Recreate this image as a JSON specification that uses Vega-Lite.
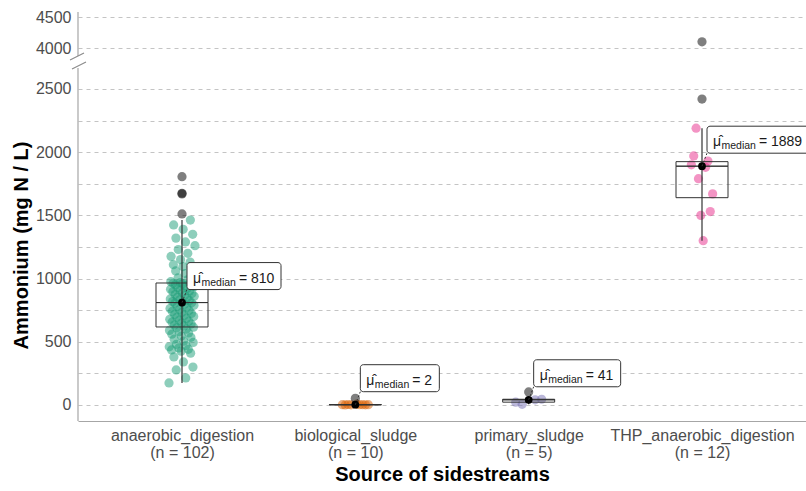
{
  "$schema": "https://vega.github.io/schema/vega-lite/v6.json",
  "width": 728,
  "height": 409,
  "padding": {"left": 11, "top": 9, "right": 0, "bottom": 6},
  "background": "white",
  "config": {"view": {"stroke": null}, "font": "Liberation Sans"},
  "datasets": {
    "points": [
      {"g": "anaerobic_digestion", "v": 174}, {"g": "anaerobic_digestion", "v": 460}, {"g": "anaerobic_digestion", "v": 590}, {"g": "anaerobic_digestion", "v": 678}, {"g": "anaerobic_digestion", "v": 764}, {"g": "anaerobic_digestion", "v": 839}, {"g": "anaerobic_digestion", "v": 916}, {"g": "anaerobic_digestion", "v": 975}, {"g": "anaerobic_digestion", "v": 1175}, {"g": "anaerobic_digestion", "v": 1670},
      {"g": "anaerobic_digestion", "v": 435}, {"g": "anaerobic_digestion", "v": 560}, {"g": "anaerobic_digestion", "v": 655}, {"g": "anaerobic_digestion", "v": 740}, {"g": "anaerobic_digestion", "v": 818}, {"g": "anaerobic_digestion", "v": 895}, {"g": "anaerobic_digestion", "v": 962}, {"g": "anaerobic_digestion", "v": 1110}, {"g": "anaerobic_digestion", "v": 1424},
      {"g": "anaerobic_digestion", "v": 380}, {"g": "anaerobic_digestion", "v": 520}, {"g": "anaerobic_digestion", "v": 632}, {"g": "anaerobic_digestion", "v": 716}, {"g": "anaerobic_digestion", "v": 804}, {"g": "anaerobic_digestion", "v": 874}, {"g": "anaerobic_digestion", "v": 950}, {"g": "anaerobic_digestion", "v": 1060}, {"g": "anaerobic_digestion", "v": 1320},
      {"g": "anaerobic_digestion", "v": 277}, {"g": "anaerobic_digestion", "v": 480}, {"g": "anaerobic_digestion", "v": 610}, {"g": "anaerobic_digestion", "v": 693}, {"g": "anaerobic_digestion", "v": 780}, {"g": "anaerobic_digestion", "v": 853}, {"g": "anaerobic_digestion", "v": 930}, {"g": "anaerobic_digestion", "v": 1005}, {"g": "anaerobic_digestion", "v": 1230}, {"g": "anaerobic_digestion", "v": 1806},
      {"g": "anaerobic_digestion", "v": 451}, {"g": "anaerobic_digestion", "v": 580}, {"g": "anaerobic_digestion", "v": 670}, {"g": "anaerobic_digestion", "v": 756}, {"g": "anaerobic_digestion", "v": 832}, {"g": "anaerobic_digestion", "v": 909}, {"g": "anaerobic_digestion", "v": 968}, {"g": "anaerobic_digestion", "v": 1150}, {"g": "anaerobic_digestion", "v": 1511},
      {"g": "anaerobic_digestion", "v": 425}, {"g": "anaerobic_digestion", "v": 545}, {"g": "anaerobic_digestion", "v": 648}, {"g": "anaerobic_digestion", "v": 732}, {"g": "anaerobic_digestion", "v": 812}, {"g": "anaerobic_digestion", "v": 888}, {"g": "anaerobic_digestion", "v": 959}, {"g": "anaerobic_digestion", "v": 1095}, {"g": "anaerobic_digestion", "v": 1390},
      {"g": "anaerobic_digestion", "v": 340}, {"g": "anaerobic_digestion", "v": 505}, {"g": "anaerobic_digestion", "v": 625}, {"g": "anaerobic_digestion", "v": 708}, {"g": "anaerobic_digestion", "v": 796}, {"g": "anaerobic_digestion", "v": 867}, {"g": "anaerobic_digestion", "v": 944}, {"g": "anaerobic_digestion", "v": 1040}, {"g": "anaerobic_digestion", "v": 1290},
      {"g": "anaerobic_digestion", "v": 214}, {"g": "anaerobic_digestion", "v": 470}, {"g": "anaerobic_digestion", "v": 600}, {"g": "anaerobic_digestion", "v": 685}, {"g": "anaerobic_digestion", "v": 772}, {"g": "anaerobic_digestion", "v": 846}, {"g": "anaerobic_digestion", "v": 923}, {"g": "anaerobic_digestion", "v": 990}, {"g": "anaerobic_digestion", "v": 1200}, {"g": "anaerobic_digestion", "v": 1675},
      {"g": "anaerobic_digestion", "v": 440}, {"g": "anaerobic_digestion", "v": 570}, {"g": "anaerobic_digestion", "v": 662}, {"g": "anaerobic_digestion", "v": 748}, {"g": "anaerobic_digestion", "v": 825}, {"g": "anaerobic_digestion", "v": 902}, {"g": "anaerobic_digestion", "v": 964}, {"g": "anaerobic_digestion", "v": 1130}, {"g": "anaerobic_digestion", "v": 1463},
      {"g": "anaerobic_digestion", "v": 410}, {"g": "anaerobic_digestion", "v": 535}, {"g": "anaerobic_digestion", "v": 640}, {"g": "anaerobic_digestion", "v": 724}, {"g": "anaerobic_digestion", "v": 808}, {"g": "anaerobic_digestion", "v": 881}, {"g": "anaerobic_digestion", "v": 955}, {"g": "anaerobic_digestion", "v": 1080}, {"g": "anaerobic_digestion", "v": 1350},
      {"g": "anaerobic_digestion", "v": 300}, {"g": "anaerobic_digestion", "v": 495}, {"g": "anaerobic_digestion", "v": 615}, {"g": "anaerobic_digestion", "v": 700}, {"g": "anaerobic_digestion", "v": 788}, {"g": "anaerobic_digestion", "v": 860}, {"g": "anaerobic_digestion", "v": 937}, {"g": "anaerobic_digestion", "v": 1020}, {"g": "anaerobic_digestion", "v": 1260},
      {"g": "biological_sludge", "v": 2}, {"g": "biological_sludge", "v": 0.3}, {"g": "biological_sludge", "v": 3.5}, {"g": "biological_sludge", "v": 1.2}, {"g": "biological_sludge", "v": 52}, {"g": "biological_sludge", "v": 6}, {"g": "biological_sludge", "v": 1.6}, {"g": "biological_sludge", "v": 2.6}, {"g": "biological_sludge", "v": 0.8}, {"g": "biological_sludge", "v": 2},
      {"g": "primary_sludge", "v": 22}, {"g": "primary_sludge", "v": 5}, {"g": "primary_sludge", "v": 103}, {"g": "primary_sludge", "v": 41}, {"g": "primary_sludge", "v": 45},
      {"g": "THP_anaerobic_digestion", "v": 4100}, {"g": "THP_anaerobic_digestion", "v": 1900}, {"g": "THP_anaerobic_digestion", "v": 1970}, {"g": "THP_anaerobic_digestion", "v": 2190}, {"g": "THP_anaerobic_digestion", "v": 1790}, {"g": "THP_anaerobic_digestion", "v": 1500}, {"g": "THP_anaerobic_digestion", "v": 1300}, {"g": "THP_anaerobic_digestion", "v": 1880}, {"g": "THP_anaerobic_digestion", "v": 1930}, {"g": "THP_anaerobic_digestion", "v": 1530}, {"g": "THP_anaerobic_digestion", "v": 1670}, {"g": "THP_anaerobic_digestion", "v": 2420}
    ],
    "stats": [
      {"g": "anaerobic_digestion", "lo": 174, "q1": 617, "med": 810, "q3": 965, "hi": 1463},
      {"g": "biological_sludge", "lo": 0.3, "q1": 1.3, "med": 2, "q3": 3.3, "hi": 6},
      {"g": "primary_sludge", "lo": 5, "q1": 22, "med": 41, "q3": 45, "hi": 45},
      {"g": "THP_anaerobic_digestion", "lo": 1300, "q1": 1640, "med": 1889, "q3": 1925, "hi": 2190}
    ],
    "axisseg": [{"y0": -127, "y1": 2666}, {"y0": 3871, "y1": 4581}],
    "brk": [{"y": 3268}]
  },
  "layer": [
    {
      "data": {"name": "points"},
      "transform": [
        {"lookup": "g", "from": {"data": {"name": "stats"}, "key": "g", "fields": ["lo", "hi"]}},
        {"window": [{"op": "percent_rank", "as": "jit"}], "groupby": ["g"]},
        {"filter": "datum.v >= datum.lo && datum.v <= datum.hi"}
      ],
      "mark": {"type": "circle", "size": 85, "opacity": 0.5},
      "encoding": {
        "x": {
          "field": "g", "type": "nominal",
          "scale": {"type": "point", "domain": ["anaerobic_digestion", "biological_sludge", "primary_sludge", "THP_anaerobic_digestion"], "padding": 0.6},
          "axis": {
            "title": "Source of sidestreams",
            "labelExpr": "[datum.label, datum.label == 'anaerobic_digestion' ? '(n = 102)' : datum.label == 'biological_sludge' ? '(n = 10)' : datum.label == 'primary_sludge' ? '(n = 5)' : '(n = 12)']",
            "labelAngle": 0, "labelFontSize": 16, "labelColor": "#4d4d4d", "labelLineHeight": 17, "labelPadding": 6, "labelLimit": 400, "labelOverlap": false,
            "ticks": false, "grid": false, "domainColor": "#a6a6a6", "domainWidth": 1.2,
            "titleFontSize": 20, "titleFontWeight": "bold", "titleColor": "black", "titlePadding": 4
          }
        },
        "xOffset": {"field": "jit", "type": "quantitative", "scale": {"domain": [0, 1], "range": [-13, 13]}},
        "y": {
          "field": "v", "type": "quantitative",
          "scale": {"domain": [-127, 2666, 3871, 4581], "range": [409, 56, 44, 0], "zero": false, "nice": false},
          "axis": {
            "title": "Ammonium (mg N / L)",
            "values": [0, 250, 500, 750, 1000, 1250, 1500, 1750, 2000, 2250, 2500, 4000, 4500],
            "tickCount": 50,
            "labelExpr": "datum.value % 500 == 0 ? datum.label : ''",
            "format": "d", "grid": true, "gridDash": [4, 4], "gridColor": "#c4c4c4", "gridWidth": 1,
            "ticks": false, "domain": false, "labelFontSize": 16, "labelColor": "#4d4d4d", "labelPadding": 7, "labelOverlap": false,
            "titleFontSize": 20, "titleFontWeight": "bold", "titleColor": "black", "titlePadding": 4, "titleY": 233
          }
        },
        "color": {"field": "g", "type": "nominal", "scale": {"domain": ["anaerobic_digestion", "biological_sludge", "primary_sludge", "THP_anaerobic_digestion"], "range": ["#1B9E77", "#D95F02", "#7570B3", "#E7298A"]}, "legend": null}
      }
    },
    {
      "data": {"name": "points"},
      "transform": [
        {"lookup": "g", "from": {"data": {"name": "stats"}, "key": "g", "fields": ["lo", "hi"]}},
        {"filter": "datum.v < datum.lo || datum.v > datum.hi"}
      ],
      "mark": {"type": "circle", "size": 85, "color": "black", "opacity": 0.5},
      "encoding": {
        "x": {"field": "g", "type": "nominal"},
        "y": {"field": "v", "type": "quantitative"}
      }
    },
    {
      "data": {"name": "stats"},
      "mark": {"type": "rule", "color": "#333333", "strokeWidth": 1.2},
      "encoding": {
        "x": {"field": "g", "type": "nominal"},
        "y": {"field": "lo", "type": "quantitative"},
        "y2": {"field": "hi"}
      }
    },
    {
      "data": {"name": "stats"},
      "mark": {"type": "bar", "width": 52, "fill": "white", "fillOpacity": 0, "stroke": "#333333", "strokeWidth": 1},
      "encoding": {
        "x": {"field": "g", "type": "nominal"},
        "y": {"field": "q1", "type": "quantitative"},
        "y2": {"field": "med"}
      }
    },
    {
      "data": {"name": "stats"},
      "mark": {"type": "bar", "width": 52, "fill": "white", "fillOpacity": 0, "stroke": "#333333", "strokeWidth": 1},
      "encoding": {
        "x": {"field": "g", "type": "nominal"},
        "y": {"field": "med", "type": "quantitative"},
        "y2": {"field": "q3"}
      }
    },
    {
      "data": {"name": "stats"},
      "mark": {"type": "circle", "size": 60, "color": "black", "opacity": 1},
      "encoding": {
        "x": {"field": "g", "type": "nominal"},
        "y": {"field": "med", "type": "quantitative"}
      }
    },
    {
      "data": {"name": "stats"},
      "mark": {"type": "point", "shape": "M0,0L5,-13", "size": 4, "filled": false, "stroke": "#333333", "strokeWidth": 1, "strokeDash": [2, 2], "opacity": 1, "clip": true},
      "encoding": {
        "x": {"field": "g", "type": "nominal"},
        "y": {"field": "med", "type": "quantitative"}
      }
    },
    {
      "data": {"name": "stats"},
      "mark": {"type": "point", "size": 4, "filled": true, "fill": "white", "stroke": "#333333", "strokeWidth": 1, "opacity": 1, "fillOpacity": 1, "strokeOpacity": 1, "clip": true},
      "encoding": {
        "x": {"field": "g", "type": "nominal"},
        "y": {"field": "med", "type": "quantitative"},
        "shape": {
          "field": "g", "type": "nominal", "legend": null,
          "scale": {
            "domain": ["anaerobic_digestion", "biological_sludge", "primary_sludge", "THP_anaerobic_digestion"],
            "range": [
              "M8,-40H96A3,3 0 0 1 99,-37V-16A3,3 0 0 1 96,-13H8A3,3 0 0 1 5,-16V-37A3,3 0 0 1 8,-40Z",
              "M8,-40H81A3,3 0 0 1 84,-37V-16A3,3 0 0 1 81,-13H8A3,3 0 0 1 5,-16V-37A3,3 0 0 1 8,-40Z",
              "M8,-40H89A3,3 0 0 1 92,-37V-16A3,3 0 0 1 89,-13H8A3,3 0 0 1 5,-16V-37A3,3 0 0 1 8,-40Z",
              "M8,-40H104A3,3 0 0 1 107,-37V-16A3,3 0 0 1 104,-13H8A3,3 0 0 1 5,-16V-37A3,3 0 0 1 8,-40Z"
            ]
          }
        }
      }
    },
    {
      "data": {"name": "stats"},
      "mark": {"type": "text", "text": "μ̂", "align": "left", "baseline": "alphabetic", "dx": 11, "dy": -20, "fontSize": 14, "fill": "#1a1a1a", "clip": true},
      "encoding": {
        "x": {"field": "g", "type": "nominal"},
        "y": {"field": "med", "type": "quantitative"}
      }
    },
    {
      "data": {"name": "stats"},
      "mark": {"type": "text", "text": "median", "align": "left", "baseline": "alphabetic", "dx": 19.5, "dy": -17, "fontSize": 10.5, "fill": "#1a1a1a", "clip": true},
      "encoding": {
        "x": {"field": "g", "type": "nominal"},
        "y": {"field": "med", "type": "quantitative"}
      }
    },
    {
      "data": {"name": "stats"},
      "mark": {"type": "text", "text": "=", "align": "left", "baseline": "alphabetic", "dx": 57, "dy": -20, "fontSize": 14, "fill": "#1a1a1a", "clip": true},
      "encoding": {
        "x": {"field": "g", "type": "nominal"},
        "y": {"field": "med", "type": "quantitative"}
      }
    },
    {
      "data": {"name": "stats"},
      "mark": {"type": "text", "align": "left", "baseline": "alphabetic", "dx": 69, "dy": -20, "fontSize": 14, "fill": "#1a1a1a", "clip": true},
      "encoding": {
        "x": {"field": "g", "type": "nominal"},
        "y": {"field": "med", "type": "quantitative"},
        "text": {"field": "med", "type": "quantitative", "format": "d"}
      }
    },
    {
      "data": {"name": "axisseg"},
      "mark": {"type": "rule", "color": "#a6a6a6", "strokeWidth": 1.2},
      "encoding": {
        "x": {"value": 0},
        "y": {"field": "y0", "type": "quantitative"},
        "y2": {"field": "y1"}
      }
    },
    {
      "data": {"name": "brk"},
      "mark": {"type": "point", "shape": "M-8,-2L6,-9M-6,7L8,0", "size": 4, "filled": false, "stroke": "#8c8c8c", "strokeWidth": 1.2, "opacity": 1},
      "encoding": {
        "x": {"value": 0},
        "y": {"field": "y", "type": "quantitative"}
      }
    }
  ]
}
